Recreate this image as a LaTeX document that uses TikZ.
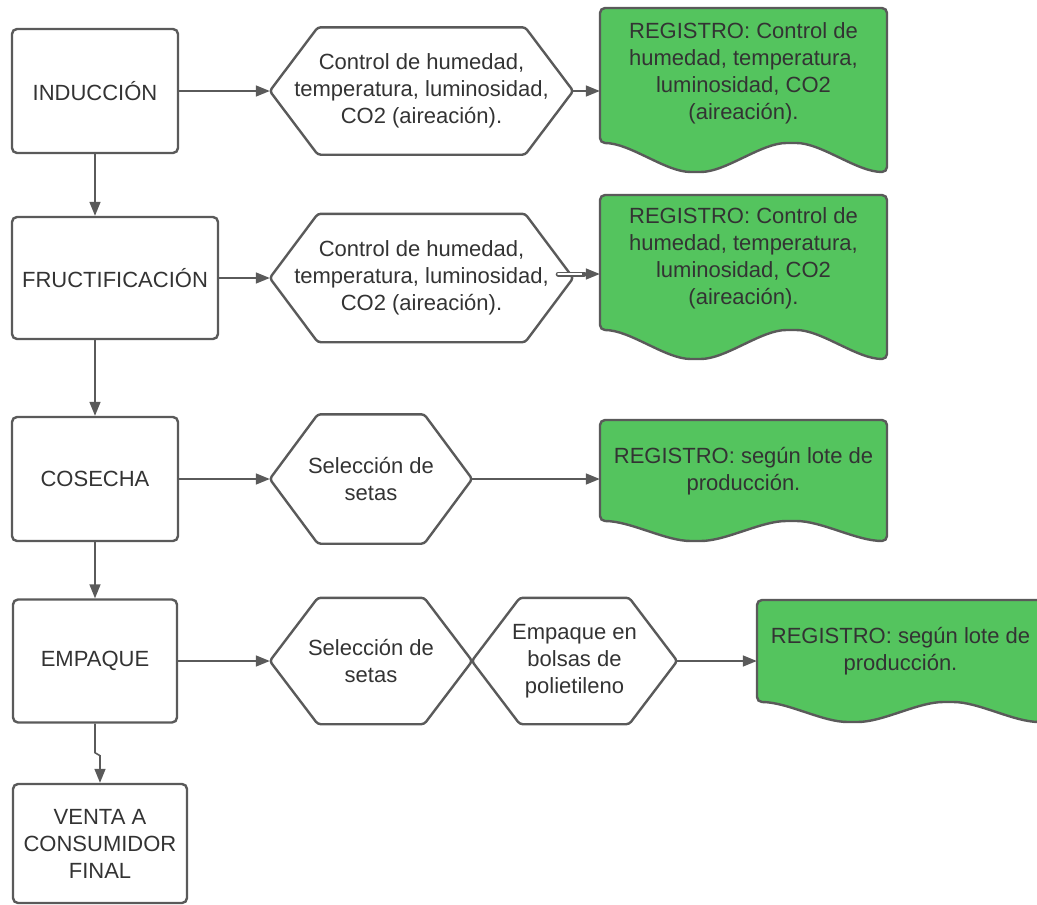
\documentclass[tikz,border=0pt]{standalone}
\usepackage{fontspec}
\setmainfont{Liberation Sans}
\usetikzlibrary{arrows.meta}

\definecolor{edge}{RGB}{90,90,90}
\definecolor{ink}{RGB}{51,51,51}
\definecolor{leaf}{RGB}{84,196,94}

\tikzset{
  lbl/.style={font=\fontsize{22}{27}\selectfont, text=ink, align=center, inner sep=0pt},
  stepbox/.style={lbl, draw=edge, line width=2.4pt, rounded corners=5pt},
  hexline/.style={draw=edge, line width=2.4pt, rounded corners=3pt},
  docline/.style={draw=edge, fill=leaf, line width=2.4pt, rounded corners=5pt},
  conn/.style={draw=edge, line width=1.6pt, -{Triangle[length=14pt,width=11pt]}},
}

% hexagonal process outline around a rectangular node
\newcommand\hexoutline[2]{%
  \draw[hexline] (#1.west) -- ([xshift=#2]#1.north west) -- ([xshift=-#2]#1.north east)
    -- (#1.east) -- ([xshift=-#2]#1.south east) -- ([xshift=#2]#1.south west) -- cycle;}

% document shape: left, top, right, bottom, wave height
\newcommand\docoutline[5]{%
  \pgfmathsetmacro\docq{(#3-#1)/6}%
  \pgfmathsetmacro\doch{#5/2}%
  \draw[docline] (#1,#2) -- (#3,#2) -- (#3,#4)
    cos ({#3-\docq},{#4-\doch}) sin ({#3-2*\docq},{#4-#5})
    cos ({#3-3*\docq},{#4-\doch}) sin ({#3-4*\docq},#4)
    cos ({#3-5*\docq},{#4-\doch}) sin (#1,{#4-#5}) -- cycle;}

\begin{document}
\begin{tikzpicture}[x=1pt, y=-1pt]
  \useasboundingbox (0,0) rectangle (1037,905);
  \clip (0,0) rectangle (1037,905);

  % record documents (green)
  \docoutline{600}{8}{887}{172}{29}
  \docoutline{600}{195}{887}{359}{29}
  \docoutline{600}{420}{887}{541}{20}
  \docoutline{757}{600}{1044}{722}{20}

  % main steps
  \node[stepbox, minimum width=166, minimum height=124] (ind) at (95,91) {INDUCCIÓN};
  \node[stepbox, minimum width=206, minimum height=122] (fru) at (115,278) {FRUCTIFICACIÓN};
  \node[stepbox, minimum width=166, minimum height=124] (cos) at (95,479) {COSECHA};
  \node[stepbox, minimum width=164, minimum height=123] (emp) at (95,661) {EMPAQUE};
  \node[stepbox, minimum width=174, minimum height=119] (ven) at (100,843.5) {VENTA A\\CONSUMIDOR\\FINAL};

  % process hexagons
  \node[lbl, minimum width=303, minimum height=127] (h1) at (421.5,91) {Control de humedad,\\temperatura, luminosidad,\\CO2 (aireación).};
  \node[lbl, minimum width=303, minimum height=128] (h2) at (421.5,278) {Control de humedad,\\temperatura, luminosidad,\\CO2 (aireación).};
  \node[lbl, minimum width=202, minimum height=129] (h3) at (371,479) {Selección de\\setas};
  \node[lbl, minimum width=202, minimum height=126] (h4) at (371,661) {Selección de\\setas};
  \node[lbl, minimum width=205, minimum height=126] (h5) at (574.5,661) {Empaque en\\bolsas de\\polietileno};
  \hexoutline{h1}{48pt}
  \hexoutline{h2}{48pt}
  \hexoutline{h3}{48pt}
  \hexoutline{h4}{48pt}
  \hexoutline{h5}{48pt}

  % record texts
  \node[lbl, minimum width=287] (d1) at (743.5,73.5) {REGISTRO: Control de\\humedad, temperatura,\\luminosidad, CO2\\(aireación).};
  \node[lbl, minimum width=287] (d2) at (743.5,258.5) {REGISTRO: Control de\\humedad, temperatura,\\luminosidad, CO2\\(aireación).};
  \node[lbl, minimum width=287] (d3) at (743.5,471) {REGISTRO: según lote de\\producción.};
  \node[lbl, minimum width=287] (d4) at (900.5,651) {REGISTRO: según lote de\\producción.};

  % vertical flow
  \draw[conn] (ind.south) -- (ind.south |- fru.north);
  \draw[conn] (fru.south -| cos.north) -- (cos.north);
  \draw[conn] (cos.south) -- (emp.north);
  \draw[conn] (emp.south) -- ++(0,29) -- ++(5,3) -- (ven.north);

  % horizontal flow
  \draw[conn] (ind.east) -- (h1.west);
  \draw[conn] (h1.east) -- (h1.east -| d1.west);
  \draw[conn] (fru.east) -- (h2.west);
  \coordinate (jmp) at ([xshift=-15pt,yshift=4pt]h2.east);
  \draw[edge, line width=5pt, line cap=round] (jmp) -- ++(26,0);
  \draw[white, line width=2pt, line cap=round] (jmp) -- ++(26,0);
  \draw[conn] ([xshift=24pt]jmp) -- (jmp -| d2.west);
  \draw[conn] (cos.east) -- (h3.west);
  \draw[conn] (h3.east) -- (h3.east -| d3.west);
  \draw[conn] (emp.east) -- (h4.west);
  \draw[conn] (h5.east) -- (h5.east -| d4.west);
\end{tikzpicture}
\end{document}
